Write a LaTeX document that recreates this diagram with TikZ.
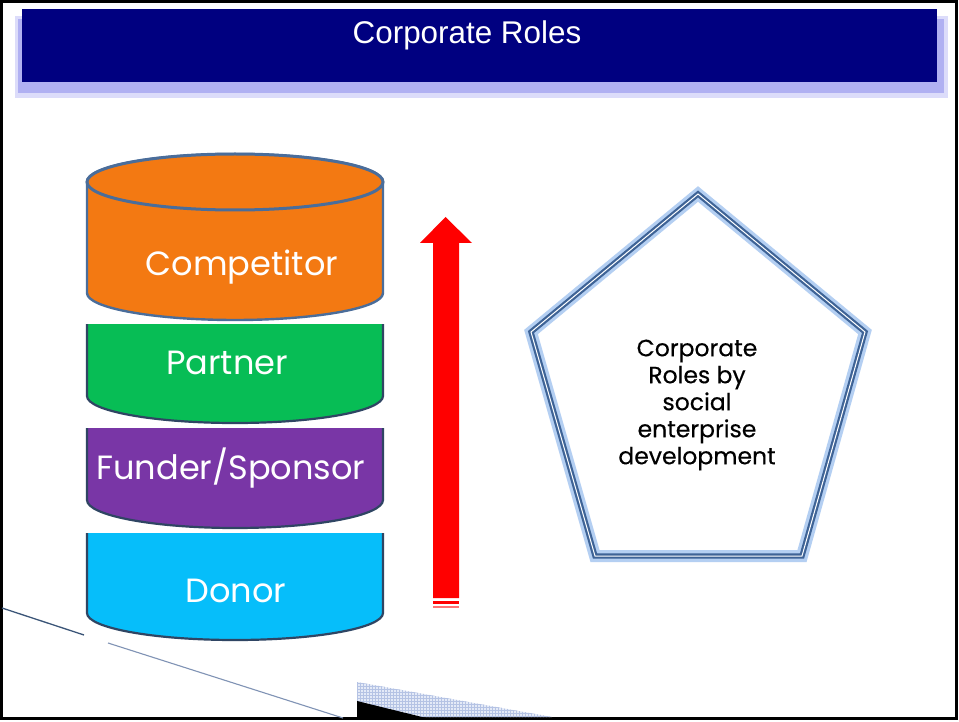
\documentclass[tikz,border=0pt]{standalone}
\usepackage{fontspec}
\setmainfont{Liberation Sans}
\newfontfamily\geo{Poppins}
\newfontfamily\geob[FakeBold=0.4]{Poppins}
\usetikzlibrary{patterns}
\definecolor{navy}{HTML}{000080}
\definecolor{shadowA}{HTML}{DCDCFA}
\definecolor{shadowB}{HTML}{B0B0F2}
\definecolor{orng}{HTML}{F37912}
\definecolor{grn}{HTML}{07BD55}
\definecolor{purp}{HTML}{7936A6}
\definecolor{cyanb}{HTML}{06BEFA}
\definecolor{rimblue}{HTML}{4A6D9A}
\definecolor{edgedark}{HTML}{2F4563}
\definecolor{pentline}{HTML}{3E6396}
\definecolor{pentglow}{HTML}{B4CFF2}
\definecolor{redarrow}{HTML}{FF0000}
\definecolor{lineA}{HTML}{3B5578}
\definecolor{lineB}{HTML}{8093B5}
\definecolor{gridfill}{HTML}{E4EAF7}
\definecolor{gridline}{HTML}{B5C3E4}
\tikzset{
  seglabel/.style={text=white, font=\geo\fontsize{33.6}{36}\selectfont, inner sep=0pt},
  segbody/.style={draw=edgedark, line width=2.2pt},
}
\begin{document}
\begin{tikzpicture}[x=1pt,y=-1pt]
\useasboundingbox (0,0) rectangle (959,722);
\fill[white] (0,0) rectangle (959,722);
% frame
\draw[black, line width=2.6pt] (1.5,1.5) rectangle (956.5,718.5);
% title bar
\fill[shadowA] (15,16) rectangle (948,98);
\fill[shadowB] (18,19) rectangle (944,93);
\fill[navy] (22,9) rectangle (937,82);
\node[text=white, font=\fontsize{31.4}{34}\selectfont, inner sep=0pt] (title) at (467,35) {Corporate Roles};
% bottom decorations
\draw[lineA, line width=1.3pt] (2,608) coordinate (la) -- (84,635) coordinate (lb);
\draw[lineB, line width=1.1pt] (108,643) coordinate (lc) -- (343,718) coordinate (ld);
\fill[gridfill] (357,682) -- (552,717) -- (357,717) -- cycle;
\path[pattern=grid, pattern color=gridline] (357,682) -- (552,717) -- (357,717) -- cycle;
\fill[black] (357,701) -- (422,717) -- (433,719) -- (357,719) -- cycle;
% Donor
\path[fill=cyanb, segbody] (87,533) -- (87,613) arc[start angle=180, end angle=0, x radius=148, y radius=27] -- (383,533);
\node[seglabel] (donor) at (236,591) {Donor};
% Funder/Sponsor
\path[fill=purp, segbody] (87,428) -- (87,500) arc[start angle=180, end angle=0, x radius=148, y radius=28] -- (383,428);
\node[seglabel] (funder) at (231,468) {Funder/Sponsor};
% Partner
\path[fill=grn, segbody] (87,324) -- (87,396) arc[start angle=180, end angle=0, x radius=148, y radius=27] -- (383,324);
\node[seglabel] (partner) at (227,363) {Partner};
% Competitor
\path[fill=orng, draw=rimblue, line width=2.4pt] (87,182) -- (87,293) arc[start angle=180, end angle=0, x radius=148, y radius=27] -- (383,182) arc[start angle=0, end angle=-180, x radius=148, y radius=28] -- cycle;
\draw[rimblue, line width=3pt, fill=orng] (235,182) ellipse[x radius=148, y radius=28];
\node[seglabel] (competitor) at (242,267) {Competitor};
% red arrow
\fill[redarrow] (433,598) -- (433,243) -- (420,243) -- (445.5,217) -- (472,243) -- (459,243) -- (459,598) -- cycle;
\fill[redarrow] (433,600.5) rectangle (459,604);
\fill[redarrow!55] (433,605.5) rectangle (459,607.5);
% pentagon
\coordinate (p1) at (698,194);
\coordinate (p2) at (865,332);
\coordinate (p3) at (802,556);
\coordinate (p4) at (595,556);
\coordinate (p5) at (531,332);
\draw[pentglow, line width=12pt, line join=miter] (p1) -- (p2) -- (p3) -- (p4) -- (p5) -- cycle;
\draw[pentline, line width=2.2pt, double=white, double distance=1pt, line join=miter] (p1) -- (p2) -- (p3) -- (p4) -- (p5) -- cycle;
\node[align=center, font=\geob\fontsize{23.5}{27}\selectfont, inner sep=0pt] (pentext) at (697,405) {Corporate\\Roles by\\social\\enterprise\\development};
\end{tikzpicture}
\end{document}
